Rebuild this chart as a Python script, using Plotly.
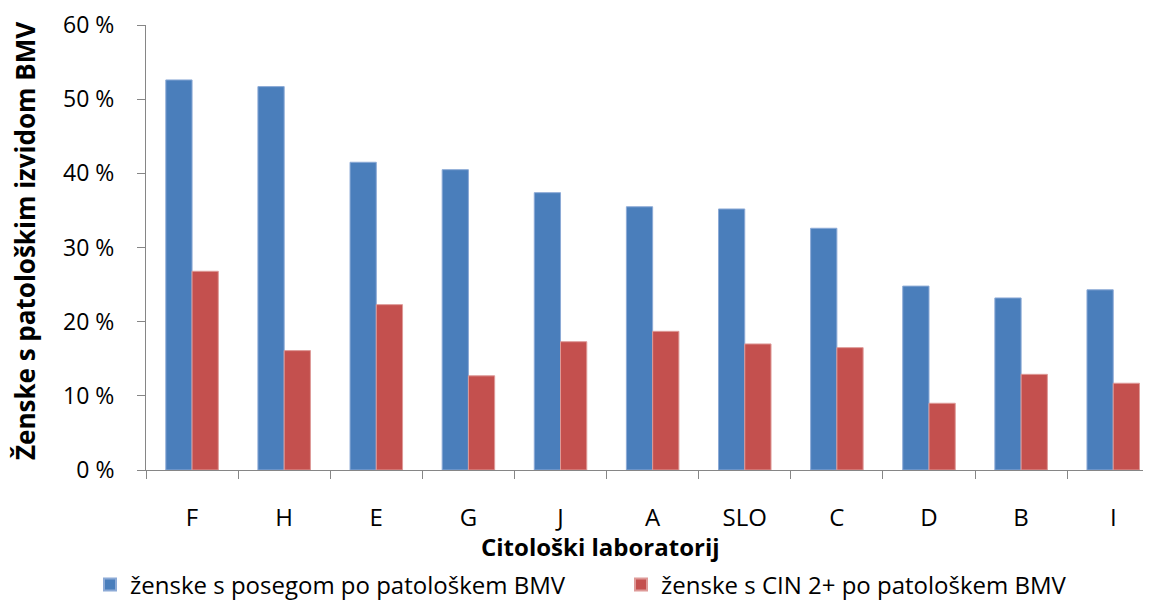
import plotly.graph_objects as go

labs = ['F', 'H', 'E', 'G', 'J', 'A', 'SLO', 'C', 'D', 'B', 'I']
poseg = [52.6, 51.7, 41.5, 40.5, 37.4, 35.5, 35.2, 32.6, 24.8, 23.2, 24.3]
cin2 = [26.8, 16.1, 22.3, 12.7, 17.3, 18.7, 17.0, 16.5, 9.0, 12.9, 11.7]
yticks = [0, 10, 20, 30, 40, 50, 60]

fnt = "Open Sans"
# page has an 8px body margin, so plot coords below are page coords - 8
L, T, W, H = 138, 17, 1005, 445
B = T + H

fig = go.Figure()
fig.add_trace(go.Bar(x=labs, y=poseg, name='ženske s posegom po patološkem BMV',
                     marker=dict(color='#4A7EBB', line=dict(color='#8CAAD6', width=1))))
fig.add_trace(go.Bar(x=labs, y=cin2, name='ženske s CIN 2+ po patološkem BMV',
                     marker=dict(color='#C4504E', line=dict(color='#DE9A98', width=1))))

fig.update_layout(
    width=1151, height=600,
    margin=dict(l=L, r=1151 - L - W, t=T, b=600 - B, autoexpand=False),
    plot_bgcolor='white', paper_bgcolor='white',
    barmode='group', bargap=0.43, bargroupgap=0,
    font=dict(family=fnt, size=24, color='black'),
    showlegend=True,
    legend=dict(orientation='h', x=(82 - L) / W, xanchor='left', y=(B - 577) / H, yanchor='middle',
                font=dict(size=24), entrywidth=486, entrywidthmode='pixels',
                itemsizing='constant', tracegroupgap=0),
    xaxis=dict(range=[-0.5, 10.41], showline=True, linecolor='#868686', linewidth=1,
               ticks='outside', tickson='boundaries', ticklen=8, tickcolor='#868686',
               ticklabelstandoff=26, automargin=False),
    yaxis=dict(range=[0, 60.01], tickvals=yticks, ticktext=[f'{v} %' for v in yticks],
               showline=True, linecolor='#868686', linewidth=1, showgrid=False,
               ticks='outside', ticklen=8, tickcolor='#868686', zeroline=False,
               tickfont=dict(size=23),
               ticklabelstandoff=18, ticklabeloverflow='allow', automargin=False),
    annotations=[
        dict(text='<b>Citološki laboratorij</b>', xref='paper', yref='paper',
             x=(592 - L) / W, y=(B - 538) / H, xanchor='center', yanchor='middle',
             showarrow=False, font=dict(size=24)),
        dict(text='<b>Ženske s patološkim izvidom BMV</b>', xref='paper', yref='paper',
             x=(17 - L) / W, y=(B - 233) / H, xanchor='center', yanchor='middle',
             textangle=-90, showarrow=False, font=dict(size=26)),
    ],
)

fig.write_html("out.html")
